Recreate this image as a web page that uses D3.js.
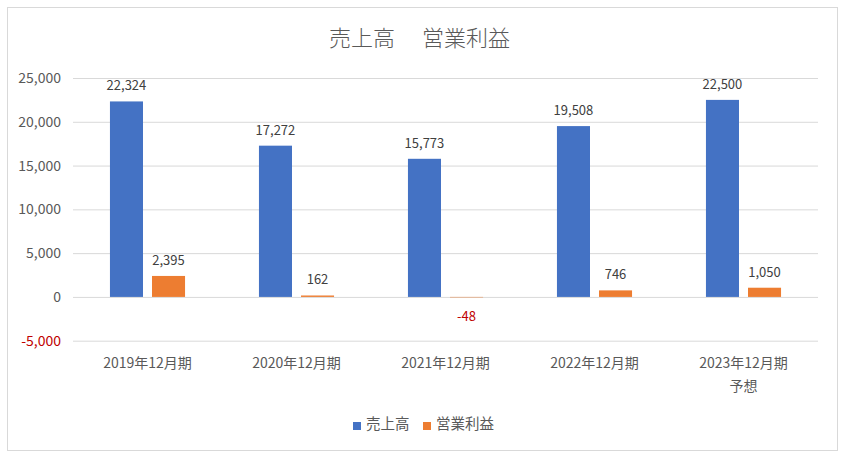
<!DOCTYPE html>
<html><head><meta charset="utf-8">
<script src="https://cdn.jsdelivr.net/npm/d3@7"></script>
<style>body{margin:0;background:#fff;} svg{display:block;}</style>
</head><body>
<svg id="c" width="846" height="458"></svg>
<script>
const categories = ["2019年12月期", "2020年12月期", "2021年12月期", "2022年12月期", "2023年12月期\n予想"];
const seriesNames = ["売上高", "営業利益"];
const sales = [22324, 17272, 15773, 19508, 22500];
const profit = [2395, 162, -48, 746, 1050];
const yTicks = [-5000, 0, 5000, 10000, 15000, 20000, 25000];
const colors = ["#4472C4", "#ED7D31"];
const titleParts = ["売上高", "営業利益"];

const font = "'Noto Sans CJK JP', 'Noto Sans', sans-serif";
const svg = d3.select("#c");
const W = 846, H = 458;
svg.append("rect").attr("x", 7.5).attr("y", 7.5).attr("width", 830).attr("height", 443)
  .attr("fill", "#fff").attr("stroke", "#d9d9d9");

const m = {left: 73, right: 818, top: 78, bottom: 340.7};
const x0 = d3.scaleBand().domain(categories).range([m.left, m.right]).paddingInner(0.496).paddingOuter(0.248);
const x1 = d3.scaleBand().domain(seriesNames).range([0, x0.bandwidth()]).paddingInner(0.214);
const y = d3.scaleLinear().domain([-5000, 25000]).range([m.bottom, m.top]);
const fmt0 = d3.format(",");
const fmt = v => fmt0(v).replace("\u2212", "-");

// title
const tg = svg.append("g").attr("font-family", font).attr("font-size", 22).attr("font-weight", 300).attr("fill", "#595959");
tg.append("text").attr("x", W/2 - 28).attr("y", 46).attr("text-anchor", "end").text(titleParts[0]);
tg.append("text").attr("x", W/2 - 1).attr("y", 46).attr("text-anchor", "start").text(titleParts[1]);

// grid
const yAxis = d3.axisLeft(y).tickValues(yTicks).tickSize(-(m.right - m.left)).tickFormat(fmt).tickPadding(12);
const ga = svg.append("g").attr("transform", `translate(${m.left},0)`).call(yAxis);
ga.select(".domain").remove();
ga.selectAll(".tick line").attr("stroke", "#d9d9d9");
ga.selectAll(".tick text").attr("font-family", font).attr("font-size", 14)
  .attr("fill", d => d < 0 ? "#C00000" : "#595959");

const data = categories.map((c, i) => ({c, vals: [sales[i], profit[i]]}));
const g = svg.append("g");
data.forEach(d => {
  d.vals.forEach((v, j) => {
    const xx = x0(d.c) + x1(seriesNames[j]);
    g.append("rect").attr("x", xx).attr("width", x1.bandwidth())
      .attr("y", y(Math.max(0, v))).attr("height", Math.abs(y(v) - y(0)))
      .attr("fill", colors[j]);
    const ty = v >= 0 ? y(v) - 11 : y(v) + 24;
    g.append("text").attr("x", xx + x1.bandwidth()/2).attr("y", ty).attr("text-anchor", "middle")
      .attr("font-family", font).attr("font-size", 13)
      .attr("fill", v < 0 ? "#C00000" : "#404040").text(fmt(v));
  });
});

// x labels
const xl = svg.append("g");
categories.forEach(c => {
  const lines = c.split("\n");
  const cx = x0(c) + x0.bandwidth()/2;
  const t = xl.append("text").attr("x", cx).attr("y", 368).attr("text-anchor", "middle")
    .attr("font-family", font).attr("font-size", 14).attr("fill", "#595959");
  lines.forEach((l, k) => t.append("tspan").attr("x", cx).attr("dy", k ? 23 : 0).text(l));
});

// legend
const lg = svg.append("g");
const legendX = [353, 423];
seriesNames.forEach((s, j) => {
  lg.append("rect").attr("x", legendX[j]).attr("y", 422).attr("width", 8).attr("height", 8).attr("fill", colors[j]);
  lg.append("text").attr("x", legendX[j] + 13).attr("y", 429).attr("font-family", font).attr("font-size", 14.5)
    .attr("fill", "#595959").text(s);
});
</script>
</body></html>
